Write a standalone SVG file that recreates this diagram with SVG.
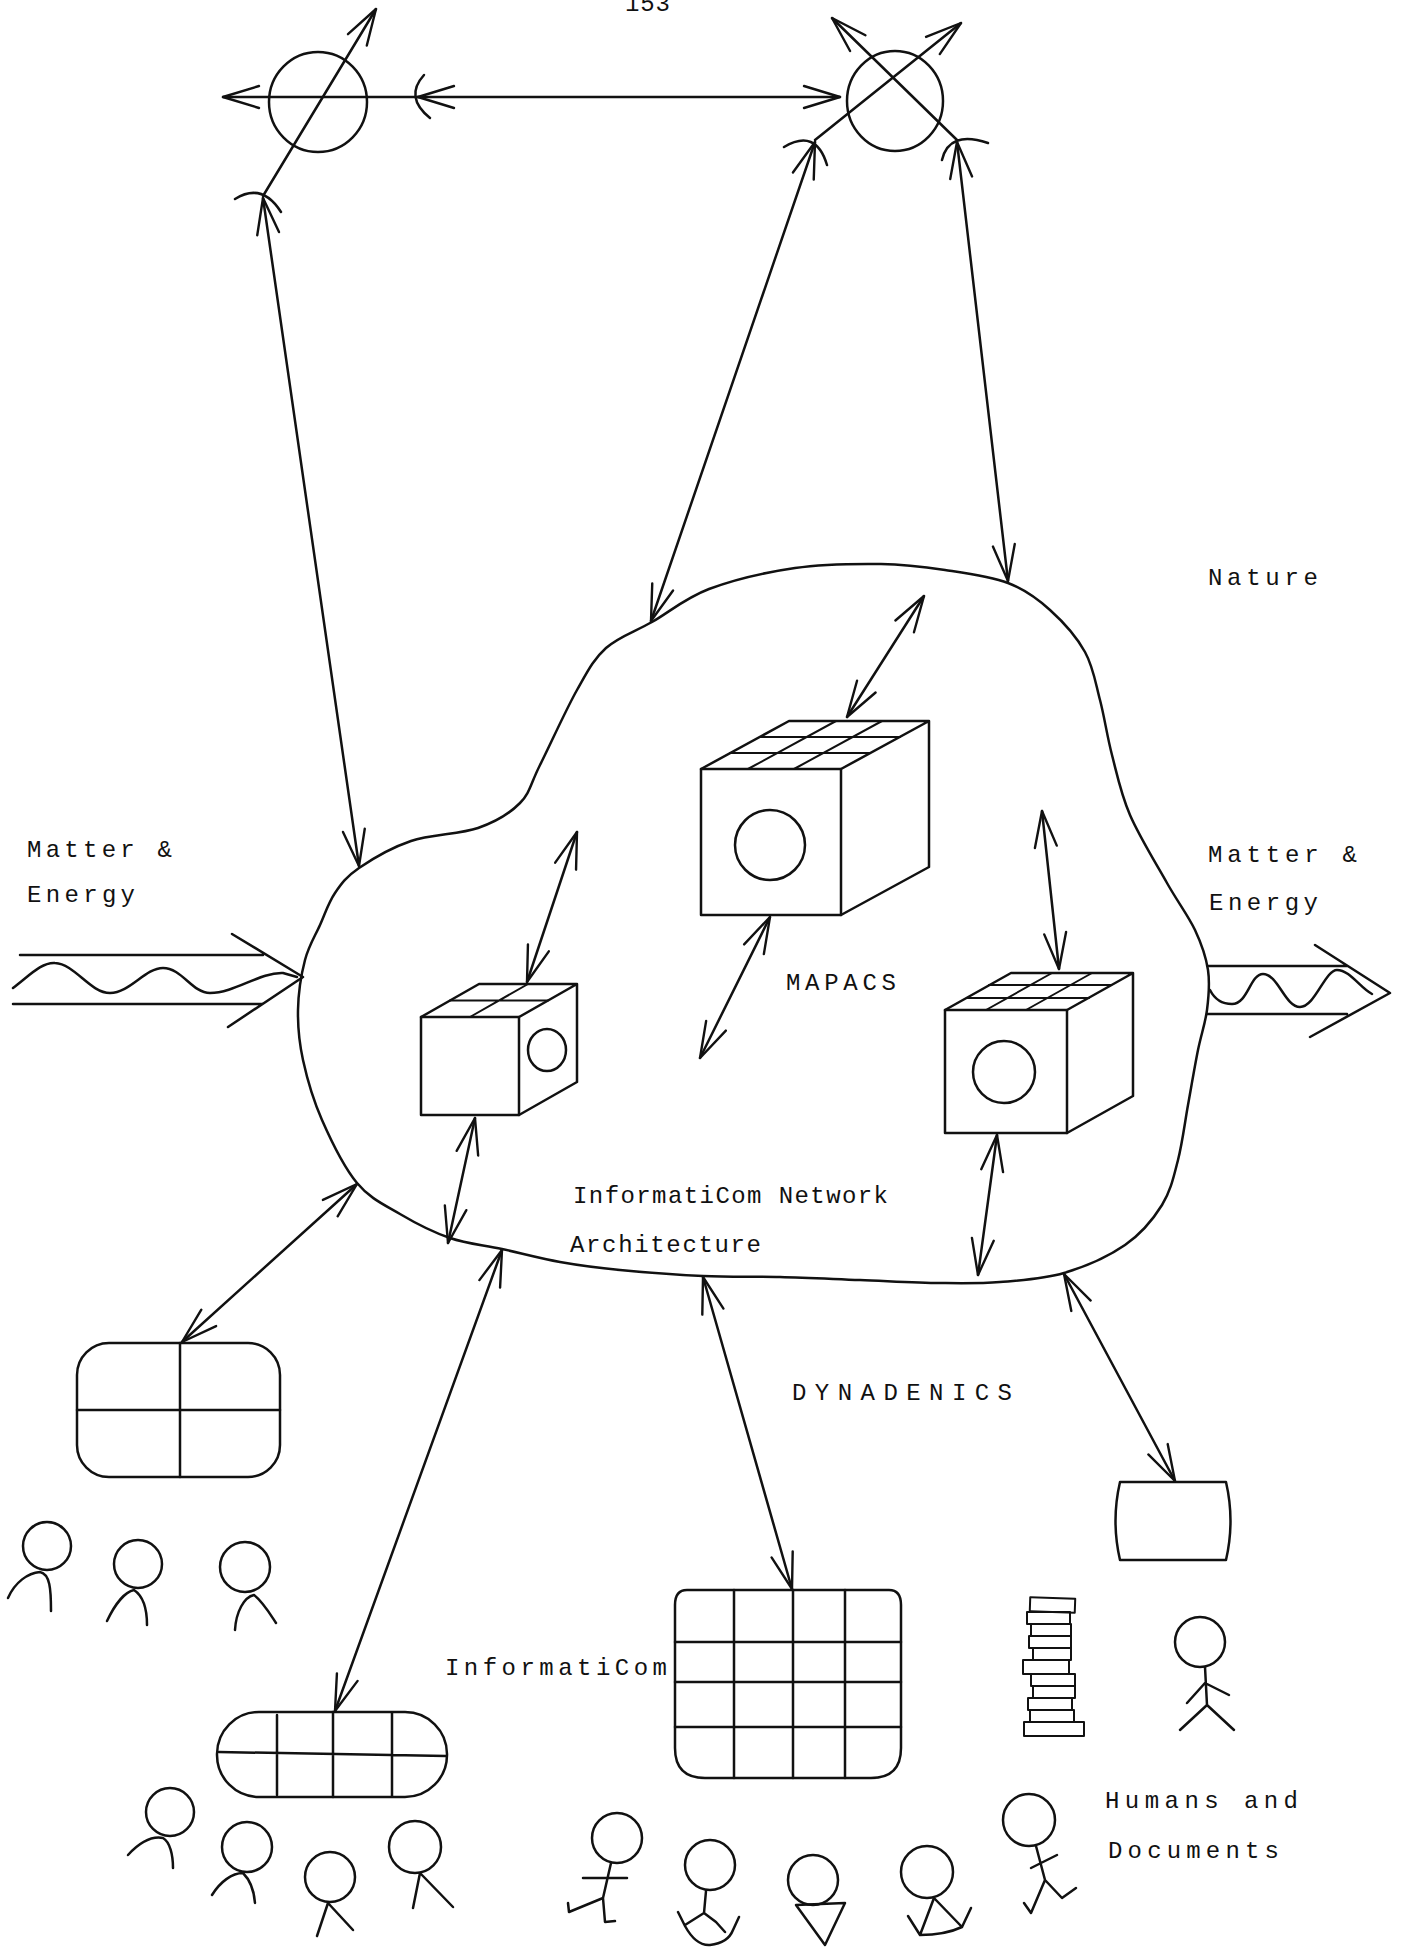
<svg xmlns="http://www.w3.org/2000/svg" width="1406" height="1947" viewBox="0 0 1406 1947">
<defs>
  <!-- open V arrowhead, reversed at line starts -->
  <marker id="ah" viewBox="-40 -16 44 32" refX="0" refY="0" markerWidth="44" markerHeight="32" markerUnits="userSpaceOnUse" orient="auto-start-reverse">
    <path d="M-36,-11 L0,0 L-36,11" fill="none" stroke="#111" stroke-width="2.4" stroke-linecap="round" stroke-linejoin="round"/>
  </marker>
</defs>
<style>
  .s{fill:none;stroke:#111;stroke-width:2.5;stroke-linecap:round;stroke-linejoin:round}
  .thin{stroke-width:2}
  .t{font-family:"Liberation Mono","Courier New",monospace;font-size:24px;fill:#111}
</style>
<rect width="1406" height="1947" fill="#fff"/>

<text class="t" x="625" y="11" textLength="45" lengthAdjust="spacing">153</text>

<!-- top sensing nodes -->
<g id="node-probe" class="s">
  <ellipse cx="318" cy="102" rx="49" ry="50"/>
</g>
<g id="node-cross" class="s">
  <ellipse cx="895" cy="101" rx="48" ry="50"/>
</g>

<!-- InformatiCom network cloud -->
<g id="cloud" class="s">
  <path d="M359,868 C371.7,859.3 391.2,847.7 411,841 S459.8,834.3 478,828 S509.7,813.5 520,803 S530.5,783.8 540,765 S566,709.5 577,690 S593.5,659.3 606,648 S634.8,631.8 652,622 S685.2,598 709,589 S766.3,572.2 795,568 S856,563.7 881,564 S923.8,566.8 945,570 S990.5,576.3 1008,583 S1037.2,598.5 1050,610 S1076.7,637 1085,652 S1095.5,682.8 1100,700 S1107,735.8 1112,755 S1120.8,793.7 1130,815 S1156.2,863.8 1167,883 S1188.2,915.5 1195,930 S1206,956.7 1208,970 S1208.7,996.7 1207,1010 S1201.2,1034.2 1198,1050 S1191.3,1086.7 1188,1105 S1182.3,1143.3 1178,1160 S1170.8,1190.8 1162,1205 S1141.3,1233.7 1125,1245 S1084.8,1266.8 1064,1273 S1020.7,1280.3 1000,1282 S963.3,1283.3 940,1283 S886.7,1281 860,1280 S806.2,1277.7 780,1277 S729.7,1277.2 703,1276 S643.8,1272.3 620,1270 S579.7,1265.5 560,1262 S520.3,1253 502,1249 S467,1243.8 450,1238 S415.5,1223.2 400,1214 S370,1198.7 357,1183 S331,1140.5 322,1120 S307,1078.3 303,1060 S297.7,1026.7 298,1010 S301.3,974.2 305,960 S315,936.2 320,925 S328.5,902.5 335,893 S346.3,876.7 359,868 Z"/>
</g>

<!-- MAPACS cubes -->
<g id="cube-main" class="s">
  <rect x="701" y="769" width="140" height="146"/>
  <path d="M701,769 L789,721 L929,721 L841,769 M841,915 L929,867 L929,721"/>
  <path class="thin" d="M730,753 L870,753 M760,737 L900,737 M748,769 L836,721 M794,769 L882,721"/>
  <circle cx="770" cy="845" r="35"/>
</g>
<g id="cube-left" class="s">
  <rect x="421" y="1017" width="98" height="98"/>
  <path d="M421,1017 L479,984 L577,984 L519,1017 M519,1115 L577,1082 L577,984"/>
  <path class="thin" d="M450,1000.5 L548,1000.5 M470,1017 L528,984"/>
  <ellipse cx="547" cy="1050" rx="19" ry="21"/>
</g>
<g id="cube-right" class="s">
  <rect x="945" y="1010" width="122" height="123"/>
  <path d="M945,1010 L1011,973 L1133,973 L1067,1010 M1067,1133 L1133,1096 L1133,973"/>
  <path class="thin" d="M967,998 L1089,998 M989,985 L1111,985 M986,1010 L1052,973 M1026,1010 L1092,973"/>
  <circle cx="1004" cy="1072" r="31"/>
</g>

<!-- matter and energy flows -->
<g id="flow-in" class="s">
  <path d="M20,955 L263,955 M13,1004 L262,1004 M232,934 L303,977 L228,1027"/>
  <path d="M13,988 C30,975 42,962 55,963 C75,964 90,993 110,993 C130,993 145,968 163,968 C182,968 192,993 210,993 C235,993 260,972 283,973 L297,977"/>
</g>
<g id="flow-out" class="s">
  <path d="M1208,966 L1347,966 M1207,1014 L1347,1014 M1315,945 L1390,993 L1310,1037"/>
  <path d="M1210,990 C1215,1000 1222,1004 1232,1004 C1248,1004 1250,974 1263,974 C1278,974 1285,1007 1300,1007 C1315,1007 1325,970 1337,970 C1350,970 1360,988 1372,994"/>
</g>

<!-- terminals and displays -->
<g id="display-quad" class="s">
  <rect x="77" y="1343" width="203" height="134" rx="32"/>
  <path d="M180,1343 L180,1477 M77,1410 L280,1410"/>
</g>
<g id="display-pill" class="s">
  <rect x="217" y="1712" width="230" height="85" rx="42"/>
  <path d="M219,1752 L446,1756 M277,1715 L277,1795 M333,1712 L333,1797 M392,1713 L392,1796"/>
</g>
<g id="display-grid" class="s">
  <path d="M687,1590 L889,1590 Q901,1590 901,1605 L901,1748 Q901,1778 871,1778 L705,1778 Q675,1778 675,1748 L675,1605 Q675,1590 687,1590 Z"/>
  <path d="M675,1642 L901,1642 M675,1682 L901,1682 M675,1727 L901,1727 M734,1590 L734,1778 M793,1590 L793,1778 M845,1590 L845,1778"/>
</g>
<g id="terminal" class="s">
  <path d="M1120,1482 L1226,1482 Q1235,1521 1226,1560 L1120,1560 Q1111,1521 1120,1482 Z"/>
</g>
<g id="documents" class="s thin">
  <rect x="1030" y="1598" width="45" height="14" transform="rotate(2 1052 1605)"/>
  <rect x="1027" y="1612" width="43" height="12"/>
  <rect x="1031" y="1624" width="40" height="12"/>
  <rect x="1029" y="1636" width="42" height="12"/>
  <rect x="1033" y="1648" width="38" height="12"/>
  <rect x="1023" y="1660" width="46" height="14"/>
  <rect x="1031" y="1674" width="44" height="12"/>
  <rect x="1033" y="1686" width="42" height="12"/>
  <rect x="1028" y="1698" width="44" height="12"/>
  <rect x="1030" y="1710" width="44" height="12"/>
  <rect x="1024" y="1722" width="60" height="14"/>
</g>

<!-- people -->
<g id="people-quad" class="s" transform="translate(0,-16)">
  <circle cx="47" cy="1562" r="24"/>
  <path d="M8,1614 C15,1598 28,1589 40,1588 C50,1590 51,1605 51,1627"/>
  <circle cx="138" cy="1580" r="24"/>
  <path d="M107,1637 C115,1620 125,1608 134,1606 C143,1612 147,1625 147,1641"/>
  <circle cx="245" cy="1583" r="25"/>
  <path d="M235,1646 C236,1628 244,1613 254,1611 C263,1618 270,1630 276,1639"/>
</g>
<g id="people-pill" class="s">
  <circle cx="170" cy="1812" r="24"/>
  <path d="M128,1855 C140,1842 152,1836 163,1838 C170,1842 173,1855 173,1868"/>
  <circle cx="247" cy="1847" r="25"/>
  <path d="M212,1895 C220,1882 232,1873 243,1873 C250,1880 254,1890 255,1903"/>
  <circle cx="330" cy="1877" r="25"/>
  <path d="M317,1936 L328,1903 L353,1930"/>
  <circle cx="415" cy="1847" r="26"/>
  <path d="M413,1908 L420,1873 L453,1907"/>
</g>
<g id="people-grid" class="s">
  <circle cx="617" cy="1838" r="25"/>
  <path d="M611,1863 L603,1898 M583,1878 L627,1878 M603,1898 L569,1912 L568,1903 M603,1898 L605,1922 L615,1921"/>
  <circle cx="710" cy="1865" r="25"/>
  <path d="M706,1891 L704,1913 L685,1925 M704,1913 L716,1922 L725,1932 M678,1912 L685,1926 Q696,1946 710,1945 Q728,1943 733,1930 L739,1917"/>
  <circle cx="813" cy="1880" r="25"/>
  <path d="M796,1905 L845,1903 L825,1945 Z"/>
  <circle cx="927" cy="1872" r="26"/>
  <path d="M934,1898 L920,1935 M934,1898 L962,1927 M908,1916 L920,1935 Q945,1935 962,1927 L971,1908"/>
  <circle cx="1029" cy="1820" r="26"/>
  <path d="M1036,1846 L1045,1880 M1031,1868 L1057,1855 M1045,1880 L1031,1913 L1024,1903 M1045,1880 L1062,1898 L1076,1888"/>
</g>
<g id="person-standing" class="s">
  <circle cx="1200" cy="1642" r="25"/>
  <path d="M1205,1667 L1207,1705 M1205,1683 L1187,1703 M1205,1683 L1229,1695 M1207,1705 L1180,1730 M1207,1705 L1234,1730"/>
</g>

<!-- connectors -->
<g id="connectors" class="s">
  <line x1="223" y1="97" x2="418" y2="97" marker-start="url(#ah)"/>
  <line x1="418" y1="97" x2="840" y2="97" marker-start="url(#ah)" marker-end="url(#ah)"/>
  <path d="M424,75 Q404,97 430,118"/>
  <line x1="263" y1="196" x2="376" y2="9" marker-end="url(#ah)"/>
  <line x1="957" y1="140" x2="832" y2="18" marker-end="url(#ah)"/>
  <line x1="815" y1="140" x2="961" y2="23" marker-end="url(#ah)"/>
  <path d="M235,199 Q262,182 281,212 M784,147 Q816,128 827,165 M942,160 Q949,130 988,143"/>
  <line x1="263" y1="198" x2="359" y2="866" marker-start="url(#ah)" marker-end="url(#ah)"/>
  <line x1="815" y1="142" x2="651" y2="621" marker-start="url(#ah)" marker-end="url(#ah)"/>
  <line x1="957" y1="142" x2="1008" y2="581" marker-start="url(#ah)" marker-end="url(#ah)"/>
  <line x1="847" y1="717" x2="924" y2="596" marker-start="url(#ah)" marker-end="url(#ah)"/>
  <line x1="527" y1="982" x2="577" y2="832" marker-start="url(#ah)" marker-end="url(#ah)"/>
  <line x1="770" y1="917" x2="700" y2="1058" marker-start="url(#ah)" marker-end="url(#ah)"/>
  <line x1="1042" y1="811" x2="1059" y2="969" marker-start="url(#ah)" marker-end="url(#ah)"/>
  <line x1="475" y1="1118" x2="448" y2="1243" marker-start="url(#ah)" marker-end="url(#ah)"/>
  <line x1="997" y1="1135" x2="978" y2="1275" marker-start="url(#ah)" marker-end="url(#ah)"/>
  <line x1="357" y1="1184" x2="182" y2="1342" marker-start="url(#ah)" marker-end="url(#ah)"/>
  <line x1="502" y1="1250" x2="335" y2="1711" marker-start="url(#ah)" marker-end="url(#ah)"/>
  <line x1="703" y1="1277" x2="792" y2="1589" marker-start="url(#ah)" marker-end="url(#ah)"/>
  <line x1="1064" y1="1274" x2="1175" y2="1481" marker-start="url(#ah)" marker-end="url(#ah)"/>
</g>

<!-- labels -->
<g id="labels">
  <text class="t" x="1208" y="585" textLength="110" lengthAdjust="spacing">Nature</text>
  <text class="t" x="27" y="857" textLength="145" lengthAdjust="spacing">Matter &amp;</text>
  <text class="t" x="27" y="902" textLength="108" lengthAdjust="spacing">Energy</text>
  <text class="t" x="1208" y="862" textLength="149" lengthAdjust="spacing">Matter &amp;</text>
  <text class="t" x="1209" y="910" textLength="109" lengthAdjust="spacing">Energy</text>
  <text class="t" x="786" y="990" textLength="110" lengthAdjust="spacing">MAPACS</text>
  <text class="t" x="573" y="1203" textLength="315" lengthAdjust="spacing">InformatiCom Network</text>
  <text class="t" x="570" y="1252" textLength="191" lengthAdjust="spacing">Architecture</text>
  <text class="t" x="792" y="1400" textLength="220" lengthAdjust="spacing">DYNADENICS</text>
  <text class="t" x="445" y="1675" textLength="222" lengthAdjust="spacing">InformatiCom</text>
  <text class="t" x="1105" y="1808" textLength="193" lengthAdjust="spacing">Humans and</text>
  <text class="t" x="1108" y="1858" textLength="171" lengthAdjust="spacing">Documents</text>
</g>
</svg>
